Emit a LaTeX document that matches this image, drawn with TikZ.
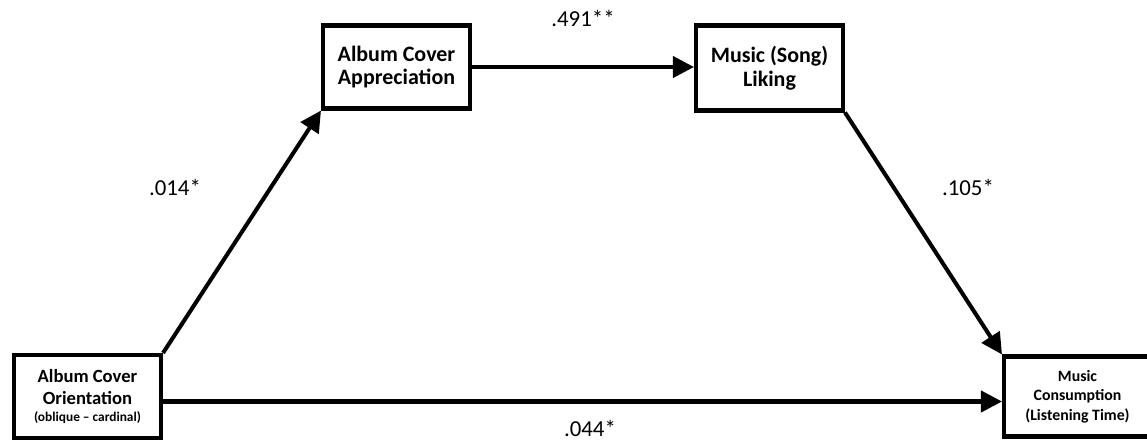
\documentclass[tikz,border=0pt]{standalone}
\usepackage{fontspec}
\setmainfont{Carlito}
\usetikzlibrary{arrows.meta, positioning}
\definecolor{ink}{HTML}{000000}

\begin{document}
\begin{tikzpicture}[
    varbox/.style={draw=ink, line width=2.3pt, align=center, inner sep=2pt,
      minimum width=2.94cm, font=\bfseries\fontsize{12.5}{13.5}\selectfont},
    path/.style={draw=ink, line width=2.3pt, -{Triangle[length=0.42cm, width=0.42cm]}},
    coef/.style={font=\fontsize{13}{15}\selectfont}
  ]
    \useasboundingbox (0,0) rectangle (22.94,-8.86);
    % variables
    \node[varbox, minimum height=1.66cm, font=\bfseries\fontsize{10.6}{12.5}\selectfont] (orient) at (1.75,-7.93)
      {Album Cover\\Orientation\\[-3pt]{\fontsize{7.6}{9}\selectfont (oblique -- cardinal)}};
    \node[varbox, minimum height=1.66cm] (appr) at (7.93,-1.34) {Album Cover\\Appreciation};
    \node[varbox, minimum height=1.70cm] (liking) at (15.39,-1.36) {Music (Song)\\Liking};
    \node[varbox, minimum height=1.60cm, font=\bfseries\fontsize{9}{11}\selectfont] (cons) at (21.55,-7.93)
      {Music\\Consumption\\(Listening Time)};
    % paths
    \draw[path] (orient.north east) -- (appr.south west);
    \draw[path] (appr.east) -- (appr.east -| liking.west);
    \draw[path] (liking.south east) -- (cons.north west);
    \draw[path] ([yshift=-0.1cm]orient.east) -- ([yshift=-0.1cm]cons.west);
    % coefficients
    \node[coef] (c1) at (11.66,-0.36) {.491**};
    \node[coef] (c2) at (3.5,-3.74) {.014*};
    \node[coef] (c3) at (19.36,-3.74) {.105*};
    \node[coef] (c4) at (11.8,-8.56) {.044*};
  \end{tikzpicture}
\end{document}
